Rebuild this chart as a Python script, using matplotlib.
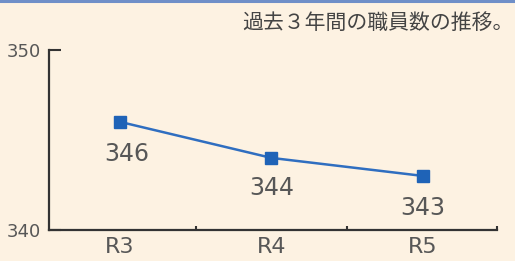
import matplotlib.pyplot as plt

plt.rcParams['font.family'] = ['Noto Sans CJK JP', 'DejaVu Sans']

# === データ ===
years = ['R3', 'R4', 'R5']
staff = [346, 344, 343]
title = '過去３年間の職員数の推移。'

bg = '#fdf2e2'
gray = '#575757'
blue = '#2f6ec0'

fig = plt.figure(figsize=(5.15, 2.61), dpi=100, facecolor=bg)
ax = fig.add_axes([0.095, 0.119, 0.870, 0.690])
ax.set_facecolor(bg)

# 上端の青いライン
fig.add_artist(plt.Line2D([0, 1], [0.996, 0.996], color='#6f8fc8', lw=2.2,
                          transform=fig.transFigure))

x = list(range(len(years)))
ax.plot(x, staff, color=blue, lw=1.8, marker='s', markersize=8.5,
        markerfacecolor='#1f63b7', markeredgecolor='#1f63b7', zorder=3)

# 値ラベル
offsets = [(5, -23), (0, -22), (0, -23)]
for xi, v, off in zip(x, staff, offsets):
    ax.annotate(str(v), (xi, v), xytext=off, textcoords='offset points',
                ha='center', va='center', fontsize=17, color=gray,
                family='DejaVu Sans')

ax.set_xlim(-0.47, 2.49)
ax.set_ylim(340, 350)

ax.set_xticks(x)
ax.set_xticklabels(years, fontsize=16, color=gray, family='DejaVu Sans')
ax.set_xticks([0.5, 1.5, 2.49], minor=True)
ax.tick_params(axis='x', which='major', length=0, pad=5)
ax.tick_params(axis='x', which='minor', direction='in', length=3,
               width=1.5, color='#333333')

ax.set_yticks([340, 350])
ax.set_yticklabels(['340', '350'], family='DejaVu Sans')
ax.tick_params(axis='y', direction='in', length=8.5, width=1.5,
               color='#333333', labelsize=13, labelcolor=gray, pad=6)

for s in ['top', 'right']:
    ax.spines[s].set_visible(False)
for s in ['left', 'bottom']:
    ax.spines[s].set_color('#333333')
    ax.spines[s].set_linewidth(1.6)

fig.text(0.998, 0.912, title, ha='right', va='center', fontsize=15,
         color='#444444')

fig.savefig('out.png', dpi=100, facecolor=bg)
